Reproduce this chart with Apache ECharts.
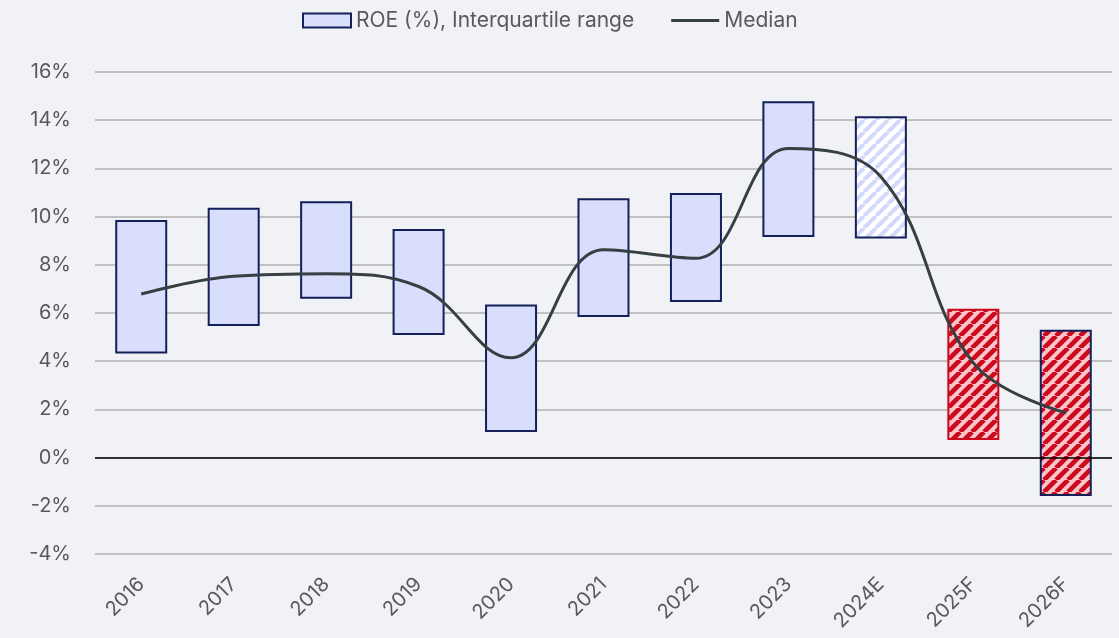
<!DOCTYPE html>
<html>
<head>
<meta charset="utf-8">
<script src="https://cdn.jsdelivr.net/npm/echarts@6/dist/echarts.min.js"></script>
<style>
  html, body { margin: 0; padding: 0; background: #f1f2f6; }
  #chart { width: 1119px; height: 638px; }
</style>
</head>
<body>
<div id="chart"></div>
<script>
// data
var categories = ['2016', '2017', '2018', '2019', '2020', '2021', '2022', '2023', '2024E', '2025F', '2026F'];
var q1 = [4.32, 5.46, 6.59, 5.09, 1.06, 5.83, 6.46, 9.15, 9.09, 0.73, -1.59];
var q3 = [9.86, 10.37, 10.64, 9.49, 6.35, 10.76, 10.98, 14.79, 14.16, 6.18, 5.31];
var median = [6.79, 7.52, 7.63, 7.10, 4.14, 8.62, 8.27, 12.83, 11.65, 3.93, 1.86];

var navy = '#13205a';
var red = '#cc0a1e';
var lineColor = '#363f42';
var textColor = '#595959';

// diagonal stripes used for the forecast boxes
function stripes(bg, fg, size, lw) {
  var c = document.createElement('canvas');
  c.width = size;
  c.height = size;
  var ctx = c.getContext('2d');
  ctx.fillStyle = bg;
  ctx.fillRect(0, 0, size, size);
  ctx.strokeStyle = fg;
  ctx.lineWidth = lw;
  ctx.beginPath();
  for (var k = -1; k <= 1; k++) {
    ctx.moveTo(k * size, size);
    ctx.lineTo(k * size + size, 0);
  }
  ctx.stroke();
  return { image: c, repeat: 'repeat' };
}

var blueHatch = stripes('#ffffff', '#d3d9fa', 12, 4.2);
var redHatch = stripes('#f9c4ca', red, 12, 4.6);

var ranges = q3.map(function (v, i) { return +(v - q1[i]).toFixed(2); });
var rangeData = ranges.map(function (v, i) {
  var c = categories[i];
  if (c === '2024E') return { value: v, itemStyle: { color: blueHatch, borderColor: navy } };
  if (c === '2025F') return { value: v, itemStyle: { color: redHatch, borderColor: red } };
  if (c === '2026F') return { value: v, itemStyle: { color: redHatch, borderColor: navy } };
  return v;
});

var myChart = echarts.init(document.getElementById('chart'));

var option = {
  backgroundColor: '#f1f2f6',
  textStyle: { fontFamily: 'Inter', color: textColor },
  legend: {
    top: 5,
    left: 297,
    itemWidth: 48,
    itemHeight: 14,
    itemGap: 37,
    textStyle: { fontSize: 21, color: textColor, fontFamily: 'Inter' },
    data: [
      { name: 'ROE (%), Interquartile range', icon: 'rect' },
      // thin line icon; the bare moves keep the box 14 high
      { name: 'Median', icon: 'path://M0,0 M0,5.5 L48,5.5 L48,8.5 L0,8.5 Z M48,14',
        itemStyle: { color: lineColor, borderWidth: 0 } }
    ]
  },
  grid: { left: 95, right: 7, top: 72, bottom: 84 },
  xAxis: {
    type: 'category',
    data: categories,
    axisLine: { show: false },
    axisTick: { show: false },
    axisLabel: { rotate: 45, fontSize: 20, color: textColor, margin: 27, interval: 0 }
  },
  yAxis: {
    type: 'value',
    min: -4,
    max: 16,
    interval: 2,
    axisLabel: { formatter: '{value}%', fontSize: 20, color: textColor, margin: 24 },
    splitLine: { lineStyle: { color: '#b1b1b1', width: 1.5 } }
  },
  series: [
    {
      name: 'base',
      type: 'bar',
      stack: 'iqr',
      stackStrategy: 'all',
      barWidth: 52,
      silent: true,
      itemStyle: { color: 'transparent' },
      data: q1
    },
    {
      name: 'ROE (%), Interquartile range',
      type: 'bar',
      stack: 'iqr',
      stackStrategy: 'all',
      barWidth: 52,
      itemStyle: { color: '#d8defb', borderColor: navy, borderWidth: 2 },
      data: rangeData,
      markLine: {
        silent: true,
        symbol: 'none',
        label: { show: false },
        lineStyle: { color: '#000000', width: 1.5, type: 'solid' },
        data: [{ yAxis: 0 }]
      }
    },
    {
      name: 'Median',
      type: 'line',
      smooth: 0.4,
      symbol: 'none',
      lineStyle: { color: lineColor, width: 3 },
      itemStyle: { color: lineColor },
      z: 5,
      data: median
    }
  ]
};

myChart.setOption(option);
</script>
</body>
</html>
